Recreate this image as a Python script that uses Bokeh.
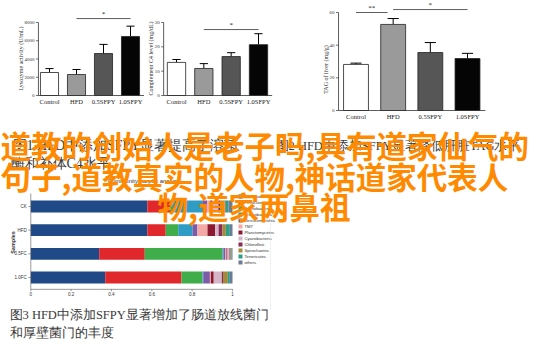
from bokeh.plotting import figure
from bokeh.models import Range1d, ColumnDataSource
from bokeh.embed import file_html
from bokeh.resources import INLINE
from bokeh.core.properties import value
import math

# ---------------- data ----------------
groups = ["Control", "HFD", "0.5SFPY", "1.0SFPY"]
lysozyme = [2520, 2300, 4600, 6470]
lysozyme_err = [430, 550, 1000, 1130]
c4_level = [13.6, 11.1, 16.0, 20.9]
c4_err = [1.2, 2.0, 1.6, 4.5]
tag_liver = [28.2, 52.7, 35.5, 31.8]
tag_err = [0.8, 3.6, 6.1, 3.2]
lyso_ticks = [0, 2000, 4000, 6000, 8000]
c4_ticks = [0, 10, 20, 30]
tag_ticks = [0, 20, 40, 60]

samples = ["CK", "HFD", "0.5FC", "1.0FC"]
phyla = ["Bacteroidetes", "Firmicutes", "Actinobacteria", "Proteobacteria",
         "Verrucomicrobia", "TM7", "Planctomycetes", "Cyanobacteria",
         "Chloroflexi", "Spirochaetes", "Tenericutes", "others"]
abund_CK = [0.578, 0.112, 0.010, 0.150, 0.025, 0.015, 0.010, 0.030, 0.010, 0.020, 0.020, 0.020]
abund_HFD = [0.578, 0.091, 0.062, 0.071, 0.024, 0.050, 0.038, 0.017, 0.019, 0.017, 0.020, 0.013]
abund_05FC = [0.339, 0.226, 0.385, 0.005, 0.010, 0.005, 0.005, 0.010, 0.003, 0.004, 0.003, 0.005]
abund_10FC = [0.369, 0.378, 0.104, 0.004, 0.033, 0.005, 0.014, 0.040, 0.006, 0.024, 0.010, 0.013]
frac_ticks = [0, 0.2, 0.4, 0.6, 0.8, 1]
frac_tick_labels = ["0", "0.2", "0.4", "0.6", "0.8", "1"]

title_lines = ["道教的创始人是老子吗,具有道家仙气的",
               "句子,道教真实的人物,神话道家代表人",
               "物,道家两鼻祖"]
caption1 = ["图1 HFD中添加SFPY显著提高了溶菌", "酶和补体C4水平"]
caption2 = "图2 HFD中添加SFPY显著降低肝脏TAG水平"
caption3 = ["图3 HFD中添加SFPY显著增加了肠道放线菌门", "和厚壁菌门的丰度"]

# ---------------- styles ----------------
bar_fills = ["#ffffff", "#9a9a9a", "#565656", "#050505"]
phyla_colors = ["#1f4a87", "#e0282c", "#3fad4a", "#2e9cc4", "#7c5ca6", "#f3a9a6",
                "#8b1a30", "#d6b5c8", "#8a2d55", "#a48b3c", "#2f9e88", "#6d7b99"]
SERIF = value("Liberation Serif")
CJK = value("Noto Sans CJK SC")

W, H = 534, 341
X0, X1 = 8, 8 + W          # image pixel coords of frame
YB, YT = 8 + H, 8          # bottom / top

p = figure(width=W, height=H, x_range=Range1d(X0, X1), y_range=Range1d(YB, YT),
           output_backend="svg", toolbar_location=None, min_border=0,
           x_axis_type=None, y_axis_type=None)
p.grid.visible = False
p.outline_line_color = None
p.background_fill_color = "white"
p.border_fill_color = "white"


def rng(d0, p0, d1, p1, lo, hi):
    s = (d1 - d0) / (p1 - p0)
    return Range1d(start=d0 + s * (lo - p0), end=d0 + s * (hi - p0))


# ---------------- three bar charts ----------------
charts = [
    dict(n="c1", vals=lysozyme, err=lysozyme_err, ticks=lyso_ticks, c0=57, c3=138,
         base=103, top=30, ymax=8000, ax=-0.41, xe=3.5,
         title="Lysozyme activity (U/mL)", tx=28, ty=66,
         sig=[(1, 3, 8430, "*")]),
    dict(n="c2", vals=c4_level, err=c4_err, ticks=c4_ticks, c0=184, c3=266,
         base=103, top=30, ymax=30, ax=-0.47, xe=3.5,
         title="Complement C4 level (mg/dL)", tx=158, ty=66,
         sig=[(1, 3, 27.1, "*")]),
    dict(n="c3", vals=tag_liver, err=tag_err, ticks=tag_ticks, c0=363.5, c3=475,
         base=118, top=20, ymax=60, ax=-0.47, xe=3.48,
         title="TAG of liver (mg/g)", tx=333, ty=77,
         sig=[(0, 0.85, 60.0, "**"), (1, 3, 61.8, "*")]),
]

for c in charts:
    xn, yn = c["n"] + "x", c["n"] + "y"
    p.extra_x_ranges[xn] = rng(0, c["c0"], 3, c["c3"], X0, X1)
    p.extra_y_ranges[yn] = rng(0, c["base"], c["ymax"], c["top"], YB, YT)
    ppx = (c["c3"] - c["c0"]) / 3.0
    kw = dict(x_range_name=xn, y_range_name=yn)
    idx = list(range(len(groups)))
    vals, err = c["vals"], c["err"]
    hi = [v + e for v, e in zip(vals, err)]
    # error bars (upper only)
    p.segment(x0=idx, y0=vals, x1=idx, y1=hi, line_color="black", line_width=1, **kw)
    p.segment(x0=[i - 0.15 for i in idx], y0=hi, x1=[i + 0.15 for i in idx], y1=hi,
              line_color="black", line_width=1, **kw)
    p.vbar(x=idx, top=vals, bottom=0, width=0.67, fill_color=bar_fills,
           line_color="#222222", line_width=0.8, **kw)
    # axes
    p.segment(x0=[c["ax"]], y0=[0], x1=[c["ax"]], y1=[c["ymax"]],
              line_color="#333333", line_width=0.8, **kw)
    p.segment(x0=[c["ax"]], y0=[0], x1=[c["xe"]], y1=[0],
              line_color="#333333", line_width=0.8, **kw)
    tl = 2.5 / ppx
    p.segment(x0=[c["ax"] - tl] * len(c["ticks"]), y0=c["ticks"],
              x1=[c["ax"]] * len(c["ticks"]), y1=c["ticks"],
              line_color="#333333", line_width=0.7, **kw)
    p.text(x=[c["ax"]] * len(c["ticks"]), y=c["ticks"], text=[str(t) for t in c["ticks"]],
           x_offset=-4, text_align="right", text_baseline="middle",
           text_font=SERIF, text_font_size="5px", text_color="#333333", **kw)
    p.text(x=idx, y=[0] * 4, text=groups, y_offset=2, text_align="center",
           text_baseline="top", text_font=SERIF, text_font_size="6.5px",
           text_color="#222222", **kw)
    for (a, b, yv, lab) in c["sig"]:
        p.segment(x0=[a], y0=[yv], x1=[b], y1=[yv], line_color="#333333",
                  line_width=0.8, **kw)
        p.text(x=[(a + b) / 2], y=[yv], text=[lab], y_offset=-1, text_align="center",
               text_baseline="bottom", text_font=SERIF, text_font_size="7px",
               text_color="#222222", **kw)
    p.text(x=[c["tx"]], y=[c["ty"]], text=[c["title"]], angle=math.pi / 2,
           text_align="center", text_baseline="middle", text_font=SERIF,
           text_font_size="6px", text_color="#333333")

# ---------------- stacked community barplot ----------------
p.extra_x_ranges["sx"] = rng(0, 38.3, 1, 240, X0, X1)
p.extra_y_ranges["sy"] = rng(0, 214, 3, 285, YB, YT)
skw = dict(x_range_name="sx", y_range_name="sy")
stack_data = {"idx": [0, 1, 2, 3]}
for k, ph in enumerate(phyla):
    stack_data[ph] = [abund_CK[k], abund_HFD[k], abund_05FC[k], abund_10FC[k]]
src = ColumnDataSource(stack_data)
p.hbar_stack(phyla, y="idx", height=0.5, color=phyla_colors, source=src,
             line_width=0, **skw)
# axes
p.segment(x0=[0], y0=[-0.55], x1=[0], y1=[3.5], line_color="#555555", line_width=0.6, **skw)
p.segment(x0=[0], y0=[3.5], x1=[1], y1=[3.5], line_color="#555555", line_width=0.6, **skw)
p.segment(x0=frac_ticks, y0=[3.5] * 6, x1=frac_ticks, y1=[3.58] * 6,
          line_color="#555555", line_width=0.6, **skw)
p.segment(x0=[-0.012] * 4, y0=[0, 1, 2, 3], x1=[0] * 4, y1=[0, 1, 2, 3],
          line_color="#555555", line_width=0.6, **skw)
p.text(x=frac_ticks, y=[3.5] * 6, text=frac_tick_labels, y_offset=3, text_align="center",
       text_baseline="top", text_font=value("Liberation Sans"), text_font_size="4.5px",
       text_color="#333333", **skw)
p.text(x=[0] * 4, y=[0, 1, 2, 3], text=samples, x_offset=-4, text_align="right",
       text_baseline="middle", text_font=value("Liberation Sans"), text_font_size="4.5px",
       text_color="#333333", **skw)
p.text(x=[20], y=[250], text=["Samples"], angle=math.pi / 2, text_align="center",
       text_baseline="middle", text_font=value("Liberation Sans"), text_font_size="5.5px",
       text_font_style="bold", text_color="#333333")
p.text(x=[152], y=[188], text=["Community barplot analysis"], text_align="center",
       text_baseline="middle", text_font=value("Liberation Sans"), text_font_size="6px",
       text_color="#333333")
# legend
leg_y = [204 + 6 * i for i in range(len(phyla))]
p.rect(x=[248] * len(phyla), y=leg_y, width=4, height=4, fill_color=phyla_colors,
       line_color=None)
p.text(x=[252] * len(phyla), y=leg_y, text=phyla, text_align="left", text_baseline="middle",
       text_font=value("Liberation Sans"), text_font_size="4.2px", text_color="#333333")
p.segment(x0=[278], y0=[228], x1=[278], y1=[318], line_color="#e4e4e4", line_width=0.8,
          line_dash="2 1")

# ---------------- gray captions ----------------
for i, t in enumerate(caption1):
    p.text(x=[20 if i == 0 else 18], y=[153 + 18 * i], text=[t], text_align="left",
           text_baseline="middle", text_font=SERIF, text_font_size="14px",
           text_color="#3a3a3a")
p.text(x=[283], y=[153], text=[caption2], text_align="left", text_baseline="middle",
       text_font=SERIF, text_font_size="12.5px", text_color="#3a3a3a")
for i, t in enumerate(caption3):
    p.text(x=[17], y=[322 + 18 * i], text=[t], text_align="left", text_baseline="middle",
           text_font=SERIF, text_font_size="12.5px", text_color="#3a3a3a")

# ---------------- orange overlay title ----------------
title_x = [8, 8, 165]
title_y = [152, 183, 213]
for t, tx, ty in zip(title_lines, title_x, title_y):
    p.text(x=[tx], y=[ty], text=[t], text_align="left", text_baseline="middle",
           text_font=CJK, text_font_size="30.5px", text_font_style="bold",
           text_color="#ff8a00")

open("out.html", "w").write(file_html(p, INLINE))
